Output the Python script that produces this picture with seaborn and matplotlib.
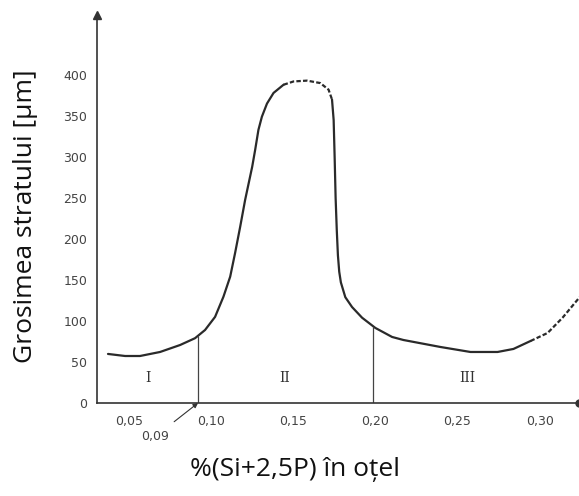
import matplotlib
matplotlib.use("Agg")
import matplotlib.pyplot as plt
import seaborn as sns
import pandas as pd

# ---- data ----
x_solid1 = [0.0372, 0.0476, 0.0567, 0.0689, 0.0811, 0.0902, 0.0963, 0.1024, 0.1075,
            0.1116, 0.1146, 0.1177, 0.1207, 0.1250, 0.1268, 0.1288, 0.1309, 0.1340,
            0.1380, 0.1441]
y_solid1 = [59.8, 57.3, 57.3, 62.2, 70.7, 79, 89, 105, 129.6,
            154, 183, 215, 247.6, 288, 308.5, 333, 349, 365,
            378, 388]
x_dash_peak = [0.1441, 0.1502, 0.1584, 0.1665, 0.1715, 0.1736]
y_dash_peak = [388, 392, 393, 390, 382, 370]
x_solid2 = [0.1736, 0.1746, 0.1752, 0.1758, 0.1765, 0.1772, 0.1780, 0.1790, 0.1817,
            0.1858, 0.1919, 0.2000, 0.2102, 0.2171, 0.2396, 0.2579, 0.2744, 0.2841,
            0.2945]
y_solid2 = [370, 345, 300, 250, 211, 180, 160, 147, 129,
            117, 104, 91.5, 80.5, 76.8, 68.3, 62.2, 62.2, 65.9,
            75.6]
x_dash_end = [0.2945, 0.3049, 0.3140, 0.3244]
y_dash_end = [75.6, 85.4, 104, 129]

boundary_x = [0.092, 0.1988]
boundary_y = [82, 93]

regions = ["I", "II", "III"]
region_x = [0.0616, 0.145, 0.256]
region_y = 30

xticks = [0.05, 0.10, 0.15, 0.20, 0.25, 0.30]
xtick_labels = ["0,05", "0,10", "0,15", "0,20", "0,25", "0,30"]
yticks = [0, 50, 100, 150, 200, 250, 300, 350, 400]

sns.set_style("white")
plt.rcParams["font.family"] = ["DejaVu Sans"]

fig = plt.figure(figsize=(5.79, 4.96), dpi=100)
ax = fig.add_axes([97 / 579, 93 / 496, 482 / 579, 388 / 496])

curve_color = "#2a2a2a"
segments = [
    (x_solid1, y_solid1, "-"),
    (x_dash_peak, y_dash_peak, (0, (2.0, 1.0))),
    (x_solid2, y_solid2, "-"),
    (x_dash_end, y_dash_end, (0, (2.0, 1.0))),
]
for xs, ys, ls in segments:
    df = pd.DataFrame({"x": xs, "y": ys})
    sns.lineplot(data=df, x="x", y="y", ax=ax, color=curve_color,
                 linewidth=1.6, linestyle=ls, sort=False)

for bx, by in zip(boundary_x, boundary_y):
    ax.plot([bx, bx], [0, by], color="#444444", linewidth=0.9)

for lab, rx in zip(regions, region_x):
    ax.text(rx, region_y, lab, ha="center", va="center", fontsize=10,
            family="DejaVu Serif", color="#333333")

ax.annotate("0,09", xy=(boundary_x[0], 0), xytext=(0.0659, -41),
            ha="center", va="center", fontsize=9, color="#444444",
            annotation_clip=False,
            arrowprops=dict(arrowstyle="-|>", color="#333333", lw=0.8,
                            mutation_scale=7, shrinkA=6, shrinkB=0))

ax.set_xlim(0.0305, 0.324)
ax.set_ylim(0, 473)
ax.set_xticks(xticks)
ax.set_xticklabels(xtick_labels)
ax.set_yticks(yticks)
ax.set_yticklabels([str(v) for v in yticks])
ax.tick_params(axis="both", direction="out", length=3, width=0.9,
               colors="#444444", labelsize=9, pad=4)
ax.tick_params(axis="x", pad=6)

for side in ["top", "right"]:
    ax.spines[side].set_visible(False)
for side in ["left", "bottom"]:
    ax.spines[side].set_color("#333333")
    ax.spines[side].set_linewidth(1.2)

ax.plot([0], [1], marker="^", markersize=6, color="#333333",
        transform=ax.transAxes, clip_on=False)
ax.plot([1], [0], marker="o", markersize=5, color="#333333",
        transform=ax.transAxes, clip_on=False)

ax.set_xlabel("")
ax.set_ylabel("")
fig.text(26 / 579, 1 - 216 / 496, "Grosimea stratului [µm]", rotation=90,
         ha="center", va="center", fontsize=19, family="Open Sans",
         color="#111111")
fig.text(295 / 579, 1 - 470 / 496, "%(Si+2,5P) în oțel",
         ha="center", va="center", fontsize=19, family="Open Sans",
         color="#111111")

fig.savefig("out.png", dpi=100)
